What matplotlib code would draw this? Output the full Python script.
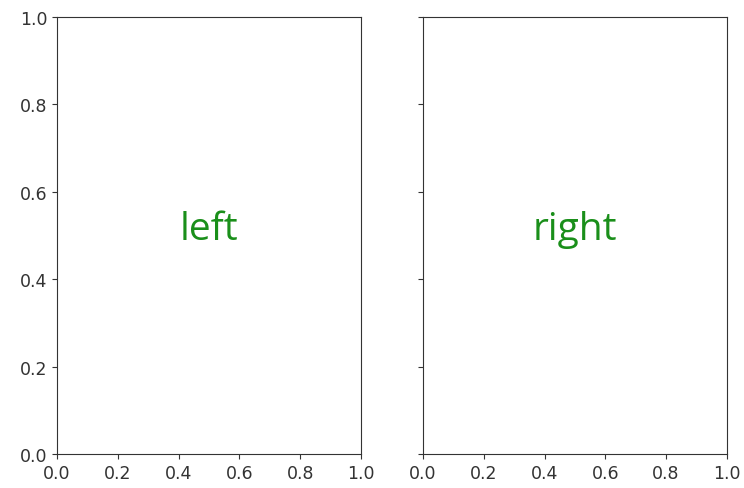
import matplotlib
matplotlib.use("Agg")
import matplotlib.pyplot as plt

labels = ["left", "right"]

fig, axs = plt.subplots(1, 2, sharey=True, figsize=(7.44, 4.89), dpi=100)
fig.subplots_adjust(left=0.0766, right=0.977, bottom=0.0695, top=0.963, wspace=0.204)

for ax, lab in zip(axs, labels):
    ax.text(0.5, 0.492, lab, color="#1a8f1a", fontsize=28, family="Open Sans",
            ha="center", va="baseline", transform=ax.transAxes)
    ax.set_xlim(0, 1)
    ax.set_ylim(0, 1)
    ax.tick_params(labelsize=12.5, labelcolor="#333333", color="#333333")
    for s in ax.spines.values():
        s.set_color("#333333")

fig.savefig("out.png", dpi=100)
